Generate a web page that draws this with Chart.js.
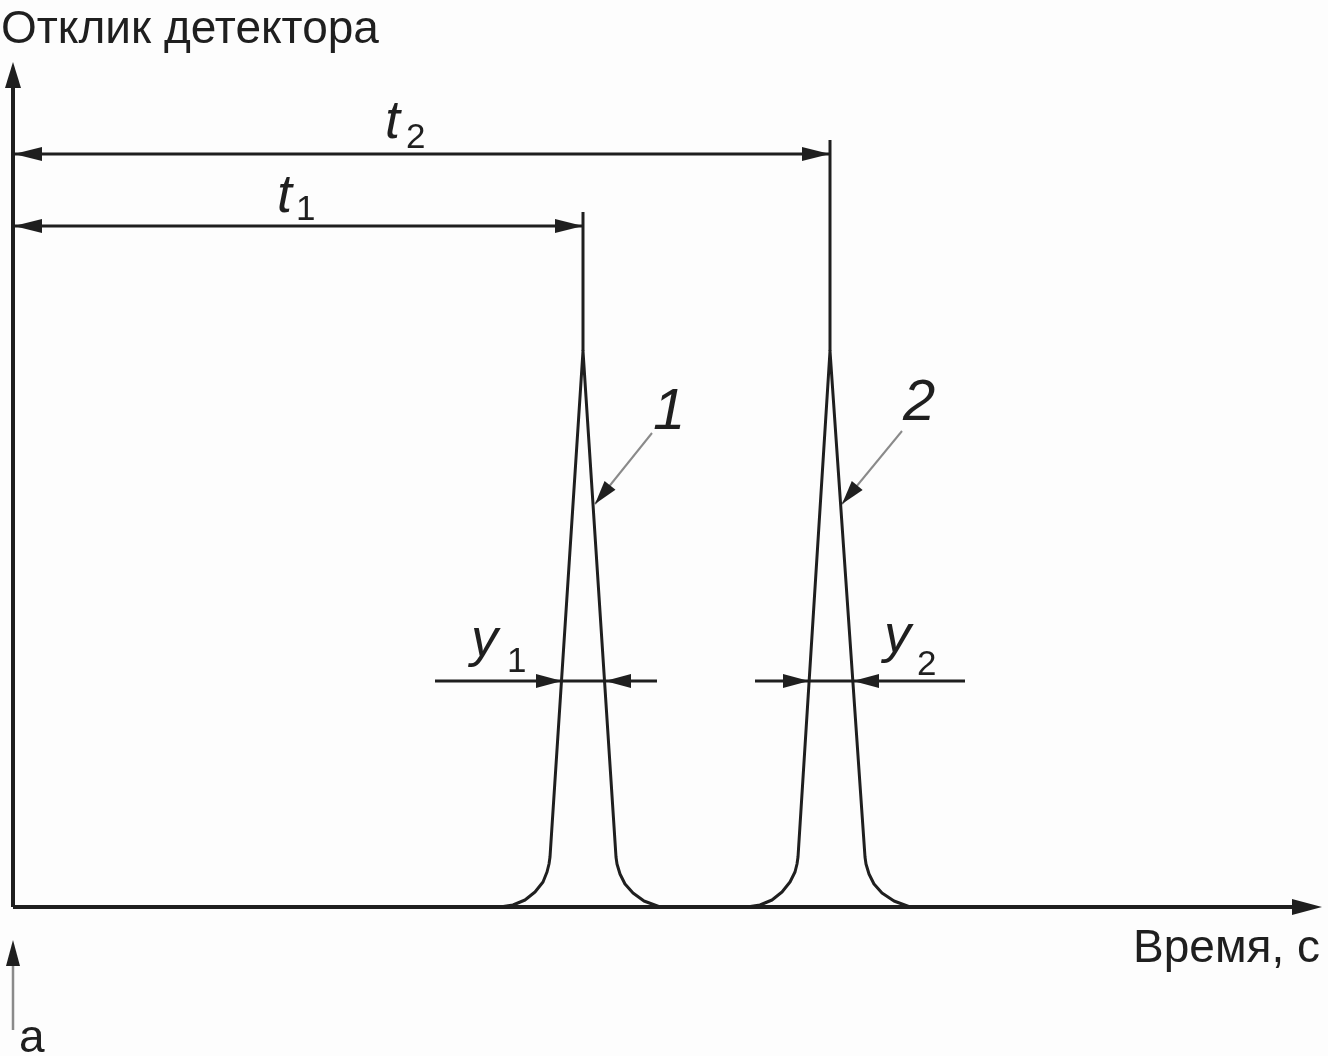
<!DOCTYPE html>
<html>
<head>
<meta charset="utf-8">
<script src="https://cdn.jsdelivr.net/npm/chart.js@4"></script>
<style>
html,body{margin:0;padding:0;background:#fdfdfd;}
#wrap{position:absolute;left:0;top:0;width:1328px;height:1056px;}
</style>
</head>
<body>
<div id="wrap"><canvas id="c"></canvas></div>
<script>
// ---- data (time units horizontally, detector response units vertically) ----
const peak1Time     = [487, 500, 512, 522, 530, 534, 536, 537, 570, 603, 604, 607, 612, 620, 631, 647];
const peak1Response = [0,   2,   7,   15,  25,  35,  43,  50,  556, 50,  43,  33,  23,  14,  6,   0];
const peak2Time     = [734, 747, 759, 769, 777, 782, 784, 785, 817, 852, 853, 856, 861, 869, 881, 897];
const peak2Response = [0,   2,   7,   15,  25,  35,  43,  50,  556, 50,  43,  33,  23,  14,  6,   0];
const retentionTimes = [570, 817];          // t1, t2
const peakHeight = 556;
const retentionLineLevels = [681, 753];     // levels of t1 / t2 dimension lines
const extensionTops = [695, 767];
const halfWidthLevel = 226;                 // level of y1 / y2
const widthLineSpan1 = [422, 644];
const widthLineSpan2 = [742, 952];
const flanks1 = [549, 592];                 // y1 limits
const flanks2 = [796, 840];                 // y2 limits
const axisTimeEnd = 1309;
const axisResponseEnd = 845;
const leader1 = [[639, 474], [582, 403]];
const leader2 = [[889, 476], [829, 403]];
const injectionMark = [-123, -33];

const titleY = 'Отклик детектора';
const titleX = 'Время, с';
const injectionLabel = 'а';

const INK = '#1f1f1f';
const GREY = '#8a8a8a';
const FONT = '"Liberation Sans", Arial, sans-serif';

function pts(xs, ys){ return xs.map((x,i)=>({x:x, y:ys[i]})); }
function seg(a, b){ return [{x:a[0],y:a[1]},{x:b[0],y:b[1]}]; }
function ds(data, width, color){
  return {data:data, showLine:true, borderColor:color||INK, borderWidth:width, pointRadius:0, tension:0, fill:false, borderCapStyle:'butt', borderJoinStyle:'round'};
}

const datasets = [
  ds(seg([0,0],[axisTimeEnd-22,0]), 4),
  ds(seg([0,0],[0,axisResponseEnd-20]), 4),
  ds(pts(peak1Time, peak1Response), 3),
  ds(pts(peak2Time, peak2Response), 3),
  ds(seg([retentionTimes[0],peakHeight],[retentionTimes[0],extensionTops[0]]), 3),
  ds(seg([retentionTimes[1],peakHeight],[retentionTimes[1],extensionTops[1]]), 3),
  ds(seg([0,retentionLineLevels[0]],[retentionTimes[0],retentionLineLevels[0]]), 3),
  ds(seg([0,retentionLineLevels[1]],[retentionTimes[1],retentionLineLevels[1]]), 3),
  ds(seg([widthLineSpan1[0],halfWidthLevel],[widthLineSpan1[1],halfWidthLevel]), 3),
  ds(seg([widthLineSpan2[0],halfWidthLevel],[widthLineSpan2[1],halfWidthLevel]), 3),
  ds(seg(leader1[0], leader1[1]), 2, GREY),
  ds(seg(leader2[0], leader2[1]), 2, GREY),
  ds(seg([0,injectionMark[0]],[0,injectionMark[1]-18]), 2.5, GREY)
];

// arrowheads: tip (data), direction from (data), length, half width
const arrowHeads = [
  {tip:[0,axisResponseEnd], from:[0,0], len:26, hw:8},
  {tip:[axisTimeEnd,0], from:[0,0], len:30, hw:8},
  {tip:[1,retentionLineLevels[1]], from:[100,retentionLineLevels[1]], len:28, hw:7},
  {tip:[retentionTimes[1],retentionLineLevels[1]], from:[0,retentionLineLevels[1]], len:28, hw:7},
  {tip:[1,retentionLineLevels[0]], from:[100,retentionLineLevels[0]], len:28, hw:7},
  {tip:[retentionTimes[0],retentionLineLevels[0]], from:[0,retentionLineLevels[0]], len:28, hw:7},
  {tip:[flanks1[0],halfWidthLevel], from:[widthLineSpan1[0],halfWidthLevel], len:26, hw:7},
  {tip:[flanks1[1],halfWidthLevel], from:[widthLineSpan1[1],halfWidthLevel], len:26, hw:7},
  {tip:[flanks2[0],halfWidthLevel], from:[widthLineSpan2[0],halfWidthLevel], len:26, hw:7},
  {tip:[flanks2[1],halfWidthLevel], from:[widthLineSpan2[1],halfWidthLevel], len:26, hw:7},
  {tip:leader1[1], from:leader1[0], len:24, hw:7},
  {tip:leader2[1], from:leader2[0], len:24, hw:7},
  {tip:[0,injectionMark[1]], from:[0,injectionMark[0]], len:26, hw:7}
];

// text labels: [text, x, y, font, align]
const labels = [
  [titleY, -12, 864, '46px '+FONT, 'left'],
  [titleX, 1307, -55, '46px '+FONT, 'right'],
  [injectionLabel, 6, -145, '46px '+FONT, 'left'],
  ['t', 264, 695, 'italic 54px '+FONT, 'left'],
  ['1', 283, 687, '35px '+FONT, 'left'],
  ['t', 372, 769, 'italic 54px '+FONT, 'left'],
  ['2', 393, 759, '35px '+FONT, 'left'],
  ['y', 458, 251, 'italic 54px '+FONT, 'left'],
  ['1', 494, 235, '35px '+FONT, 'left'],
  ['y', 871, 255, 'italic 54px '+FONT, 'left'],
  ['2', 904, 232, '35px '+FONT, 'left'],
  ['1', 640, 478, 'italic 58px '+FONT, 'left'],
  ['2', 890, 487, 'italic 58px '+FONT, 'left']
];

const decor = {
  id:'decor',
  afterDatasetsDraw(chart){
    const ctx = chart.ctx, xs = chart.scales.x, ys = chart.scales.y;
    ctx.save();
    ctx.fillStyle = INK;
    arrowHeads.forEach(a=>{
      const tx = xs.getPixelForValue(a.tip[0]), ty = ys.getPixelForValue(a.tip[1]);
      const fx = xs.getPixelForValue(a.from[0]), fy = ys.getPixelForValue(a.from[1]);
      let dx = tx-fx, dy = ty-fy; const L = Math.hypot(dx,dy); dx/=L; dy/=L;
      const bx = tx-dx*a.len, by = ty-dy*a.len;
      ctx.beginPath();
      ctx.moveTo(tx,ty);
      ctx.lineTo(bx - dy*a.hw, by + dx*a.hw);
      ctx.lineTo(bx + dy*a.hw, by - dx*a.hw);
      ctx.closePath();
      ctx.fill();
    });
    ctx.textBaseline = 'alphabetic';
    labels.forEach(l=>{
      ctx.font = l[3];
      ctx.textAlign = l[4];
      ctx.fillText(l[0], xs.getPixelForValue(l[1]), ys.getPixelForValue(l[2]));
    });
    ctx.restore();
  }
};

new Chart(document.getElementById('c'), {
  type:'scatter',
  data:{datasets:datasets},
  options:{
    responsive:true, maintainAspectRatio:false, animation:false, devicePixelRatio:1,
    layout:{padding:0},
    plugins:{legend:{display:false}, tooltip:{enabled:false}},
    scales:{
      x:{type:'linear', min:-13, max:1315, display:false},
      y:{type:'linear', min:-149, max:907, display:false}
    }
  },
  plugins:[decor]
});
</script>
</body>
</html>
